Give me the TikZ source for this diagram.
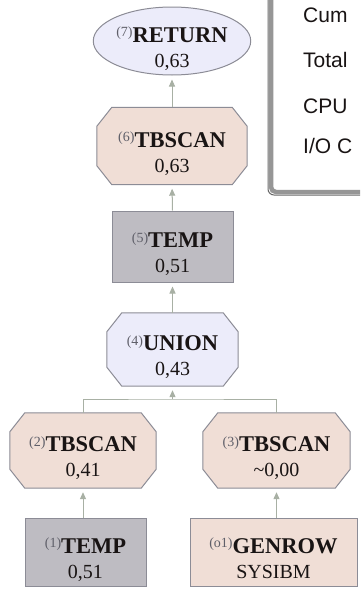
\documentclass[tikz,border=0pt]{standalone}
\usepackage{fontspec}
\setmainfont{Liberation Serif}
\newfontfamily\legendfont{Liberation Sans}
\usetikzlibrary{arrows.meta,backgrounds,shapes.geometric}
\definecolor{lav}{RGB}{236,236,250}
\definecolor{peach}{RGB}{240,222,214}
\definecolor{tmpgray}{RGB}{190,188,194}
\definecolor{bordc}{RGB}{140,140,150}
\definecolor{edgec}{RGB}{168,176,164}
\definecolor{idc}{RGB}{95,95,105}
\definecolor{txtc}{RGB}{25,20,20}
\definecolor{framec}{RGB}{150,150,150}
\newcommand\oplabel[3]{\raisebox{-14pt}[0pt][0pt]{\fontsize{22.5}{25}\selectfont\begin{tabular}{@{}c@{}}\raisebox{5.5pt}{\fontsize{14}{14}\selectfont\color{idc}(#1)}\textbf{#2}\\\fontsize{20}{25}\selectfont #3\end{tabular}}}
\newcommand\octagonbg[2]{%
\begin{pgfonlayer}{background}
\filldraw[#2] ([xshift=15pt]#1.north west) -- ([xshift=-15pt]#1.north east) -- ([yshift=-19pt]#1.north east) -- ([yshift=19pt]#1.south east) -- ([xshift=-15pt]#1.south east) -- ([xshift=15pt]#1.south west) -- ([yshift=19pt]#1.south west) -- ([yshift=-19pt]#1.north west) -- cycle;
\end{pgfonlayer}}
\begin{document}
\begin{tikzpicture}[x=1pt,y=-1pt,
  opnode/.style={inner sep=0pt,text=txtc},
  octo/.style={opnode,draw=none,fill=none},
  octofill/.style={draw=bordc,line width=1pt,fill=#1},
  boxnode/.style={opnode,draw=bordc,line width=1pt,fill=#1},
  edge/.style={draw=edgec,line width=1pt},
  arr/.style={edge,-{Triangle[length=7pt,width=6pt]},shorten >=4pt},
  legtext/.style={anchor=base west,inner sep=0pt,text=txtc,font=\legendfont\fontsize{21}{21}\selectfont}]
\useasboundingbox (0,0) rectangle (360,589);
\begin{pgfonlayer}{background}
\fill[white] (0,0) rectangle (360,589);
\end{pgfonlayer}
\clip (0,0) rectangle (360,589);

% legend frame
\draw[framec!70!black,line width=1pt,rounded corners=6pt] (268,-20) -- (268,195) -- (380,195);
\draw[framec,line width=4.5pt,rounded corners=5pt] (271,-20) -- (271,192) -- (380,192);
\node[legtext] (l1) at (303,23) {Cum};
\node[legtext] (l2) at (303,67) {Total};
\node[legtext] (l3) at (303,113) {CPU};
\node[legtext] (l4) at (303,153) {I/O C};

% nodes
\node[opnode,ellipse,draw=bordc,line width=1pt,fill=lav,minimum width=150pt,minimum height=68pt] (ret) at (172,41) {\oplabel{7}{RETURN}{0,63}};
\node[octo,minimum width=150pt,minimum height=77pt] (tb6) at (172,146) {\oplabel{6}{TBSCAN}{0,63}};
\octagonbg{tb6}{octofill=peach}
\node[boxnode=tmpgray,minimum width=121pt,minimum height=71pt] (tmp5) at (172.5,246.5) {\oplabel{5}{TEMP}{0,51}};
\node[octo,minimum width=131pt,minimum height=73pt] (un) at (172.5,349.5) {\oplabel{4}{UNION}{0,43}};
\octagonbg{un}{octofill=lav}
\node[octo,minimum width=146pt,minimum height=75pt] (tb2) at (83,450.5) {\oplabel{2}{TBSCAN}{0,41}};
\octagonbg{tb2}{octofill=peach}
\node[octo,minimum width=147pt,minimum height=75pt] (tb3) at (276.5,450.5) {\oplabel{3}{TBSCAN}{\textasciitilde0,00}};
\octagonbg{tb3}{octofill=peach}
\node[boxnode=tmpgray,minimum width=121pt,minimum height=68pt] (tmp1) at (85.5,552) {\oplabel{1}{TEMP}{0,51}};
\node[boxnode=peach,minimum width=167pt,minimum height=68pt] (gen) at (273.5,552) {\oplabel{o1}{GENROW}{SYSIBM}};

% edges
\coordinate (j) at (172.5,399);
\draw[arr] (tb6.north) -- (ret.south);
\draw[arr] (tmp5.north) -- (tb6.south);
\draw[arr] (un.north) -- (tmp5.south);
\draw[edge] (tb2.north) |- (j) -| (tb3.north);
\draw[arr] (j) -- (un.south);
\draw[arr] (tmp1.north -| tb2.south) -- (tb2.south);
\draw[arr] (gen.north -| tb3.south) -- (tb3.south);
\end{tikzpicture}
\end{document}
